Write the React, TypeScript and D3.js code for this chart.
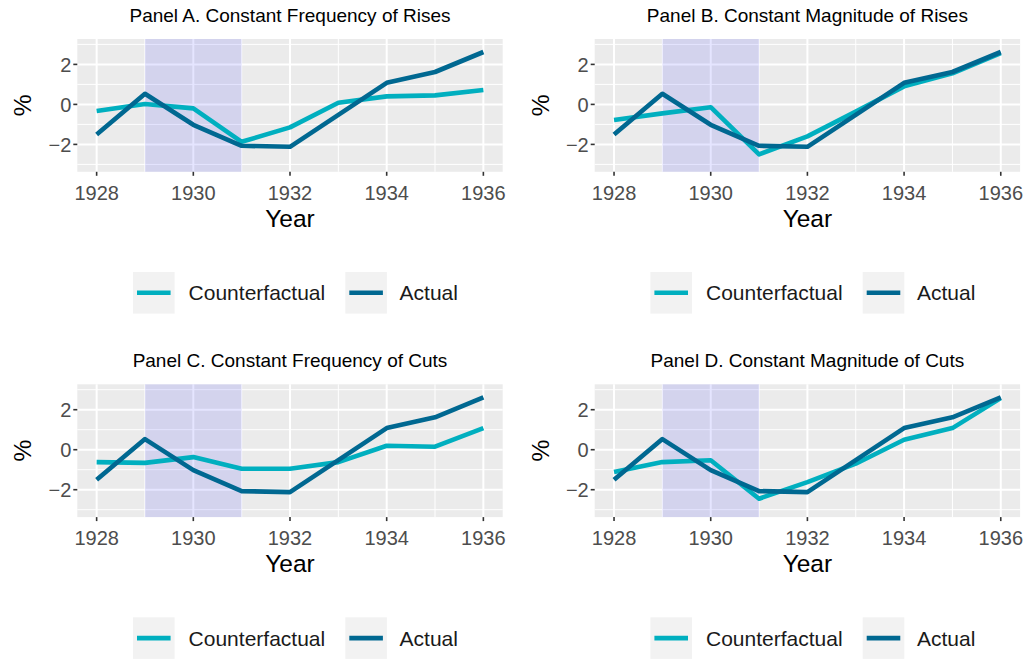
import React from "react";
import * as d3 from "d3";

const years = [1928, 1929, 1930, 1931, 1932, 1933, 1934, 1935, 1936];
const actual = [-1.5, 0.53, -1.02, -2.07, -2.12, -0.52, 1.08, 1.62, 2.62];
const cfRiseFreq = [-0.33, 0.02, -0.2, -1.87, -1.15, 0.08, 0.4, 0.45, 0.72];
const cfRiseMag = [-0.78, -0.45, -0.14, -2.5, -1.6, -0.36, 0.9, 1.55, 2.56];
const cfCutFreq = [-0.62, -0.66, -0.37, -0.95, -0.95, -0.62, 0.2, 0.15, 1.08];
const cfCutMag = [-1.12, -0.62, -0.53, -2.45, -1.62, -0.7, 0.5, 1.08, 2.58];
const titles = [
  "Panel A. Constant Frequency of Rises",
  "Panel B. Constant Magnitude of Rises",
  "Panel C. Constant Frequency of Cuts",
  "Panel D. Constant Magnitude of Cuts",
];
const counterfactuals = [cfRiseFreq, cfRiseMag, cfCutFreq, cfCutMag];
const xTicks = [1928, 1930, 1932, 1934, 1936];
const xMinor = [1929, 1931, 1933, 1935];
const yTicks = [-2, 0, 2];
const yMinor = [-3, -1, 1, 3];
const shade = [1929, 1931];
const seriesNames = ["Counterfactual", "Actual"];

const CF_COLOR = "#00AFBF";
const ACT_COLOR = "#006891";
const FONT = "'Liberation Sans', Arial, sans-serif";

const panelW = 425.4;
const panelH = 132.8;
const origins = [
  [77.3, 39],
  [594.7, 39],
  [77.3, 384.3],
  [594.7, 384.3],
];

function Panel({ idx }: { idx: number }) {
  const [ox, oy] = origins[idx];
  const x = d3.scaleLinear().domain([1927.6, 1936.4]).range([0, panelW]);
  const y = d3.scaleLinear().domain([-3.37, 3.27]).range([panelH, 0]);
  const line = d3
    .line<number>()
    .x((_, i) => x(years[i]))
    .y((d) => y(d));
  const cf = counterfactuals[idx];
  const fmt = (v: number) => (v < 0 ? "\u2212" + Math.abs(v) : String(v));
  const legendX = 55.7;
  const legendY = panelH + 121;
  const key = 41.6;
  return (
    <g transform={`translate(${ox},${oy})`}>
      <text
        x={panelW / 2}
        y={-17}
        textAnchor="middle"
        fontSize={19}
        fill="#000"
        fontFamily={FONT}
      >
        {titles[idx]}
      </text>
      <rect x={0} y={0} width={panelW} height={panelH} fill="#EBEBEB" />
      {yMinor.map((v) => (
        <line key={"ym" + v} x1={0} x2={panelW} y1={y(v)} y2={y(v)} stroke="#fff" strokeWidth={1} />
      ))}
      {xMinor.map((v) => (
        <line key={"xm" + v} x1={x(v)} x2={x(v)} y1={0} y2={panelH} stroke="#fff" strokeWidth={1} />
      ))}
      {yTicks.map((v) => (
        <line key={"yM" + v} x1={0} x2={panelW} y1={y(v)} y2={y(v)} stroke="#fff" strokeWidth={2} />
      ))}
      {xTicks.map((v) => (
        <line key={"xM" + v} x1={x(v)} x2={x(v)} y1={0} y2={panelH} stroke="#fff" strokeWidth={2} />
      ))}
      <rect
        x={x(shade[0])}
        y={0}
        width={x(shade[1]) - x(shade[0])}
        height={panelH}
        fill="#0000FF"
        fillOpacity={0.1}
      />
      <path d={line(cf) || ""} fill="none" stroke={CF_COLOR} strokeWidth={4.6} strokeLinejoin="round" />
      <path d={line(actual) || ""} fill="none" stroke={ACT_COLOR} strokeWidth={4.6} strokeLinejoin="round" />
      {yTicks.map((v) => (
        <g key={"yt" + v}>
          <line x1={-4} x2={0} y1={y(v)} y2={y(v)} stroke="#333" strokeWidth={1.6} />
          <text
            x={-6}
            y={y(v)}
            dy="0.36em"
            textAnchor="end"
            fontSize={20}
            fill="#4D4D4D"
            fontFamily={FONT}
          >
            {fmt(v)}
          </text>
        </g>
      ))}
      {xTicks.map((v) => (
        <g key={"xt" + v}>
          <line x1={x(v)} x2={x(v)} y1={panelH} y2={panelH + 4} stroke="#333" strokeWidth={1.6} />
          <text
            x={x(v)}
            y={panelH + 28}
            textAnchor="middle"
            fontSize={20}
            fill="#4D4D4D"
            fontFamily={FONT}
          >
            {v}
          </text>
        </g>
      ))}
      <text
        x={panelW / 2}
        y={panelH + 55}
        textAnchor="middle"
        fontSize={24.5}
        fill="#000"
        fontFamily={FONT}
      >
        Year
      </text>
      <text
        transform={`translate(${-46},${panelH / 2}) rotate(-90)`}
        textAnchor="middle"
        fontSize={24.5}
        fill="#000"
        fontFamily={FONT}
      >
        %
      </text>
      {seriesNames.map((name, i) => {
        const kx = legendX + i * 212.3;
        const color = i === 0 ? CF_COLOR : ACT_COLOR;
        return (
          <g key={name}>
            <rect x={kx} y={legendY - key / 2} width={key} height={key} fill="#F2F2F2" />
            <line
              x1={kx + 4}
              x2={kx + key - 4}
              y1={legendY}
              y2={legendY}
              stroke={color}
              strokeWidth={4.6}
            />
            <text
              x={kx + (i === 0 ? 55.6 : 54.3)}
              y={legendY}
              dy="0.36em"
              fontSize={21}
              fill="#1A1A1A"
              fontFamily={FONT}
            >
              {name}
            </text>
          </g>
        );
      })}
    </g>
  );
}

export default function App() {
  return (
    <svg
      width={1027}
      height={660}
      style={{ position: "absolute", left: 0, top: 0, background: "#fff" }}
    >
      <rect width={1027} height={660} fill="#fff" />
      {[0, 1, 2, 3].map((i) => (
        <Panel key={i} idx={i} />
      ))}
    </svg>
  );
}
